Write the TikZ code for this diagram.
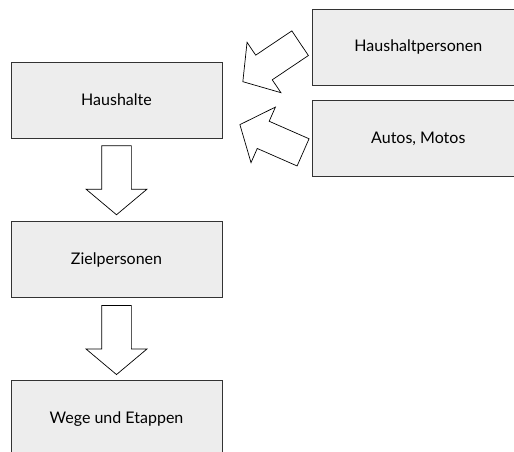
\documentclass[tikz,border=0pt]{standalone}
\usepackage{fontspec}
\setmainfont{Lato}
\usepackage{tikz}
\usetikzlibrary{shapes.arrows, positioning}
\tikzstyle{recNode} = [rectangle, minimum width=211pt, minimum height=76pt, text centered, draw=black!80, line width=0.8pt, fill=black!7, font=\fontsize{16}{18}\selectfont]
\tikzstyle{bigArrow} = [single arrow, draw=black, fill=white, line width=0.7pt, inner xsep=0pt, inner ysep=14.5pt, minimum height=69pt, single arrow head extend=15.5pt, single arrow tip angle=100]

\begin{document}
\begin{tikzpicture}[x=1pt, y=1pt]
        \useasboundingbox (0,0) rectangle (514,-451);
        \clip (0,0) rectangle (514,-451);
        \node (haus) [recNode] at (116.5,-100) {Haushalte};
        \node (ziel) [recNode, below=83pt of haus] {Zielpersonen};
        \node (wege) [recNode, below=82pt of ziel] {Wege und Etappen};
        \node (hhp) [recNode, right=90pt of haus, yshift=53pt] {Haushaltpersonen};
        \node (auto) [recNode, below=15pt of hhp] {Autos, Motos};

        \node (a1) [bigArrow, rotate=-90, anchor=tail] at ([yshift=-7pt]haus.south) {};
        \node (a2) [bigArrow, rotate=-90, anchor=tail] at ([yshift=-7pt]ziel.south) {};
        \node (a3) [bigArrow, rotate=213.9, anchor=tail] at ([xshift=-12pt, yshift=4pt]hhp.west) {};
        \node (a4) [bigArrow, rotate=156.3, anchor=tail] at ([xshift=-9pt, yshift=-13.7pt]auto.west) {};
    \end{tikzpicture}
\end{document}
